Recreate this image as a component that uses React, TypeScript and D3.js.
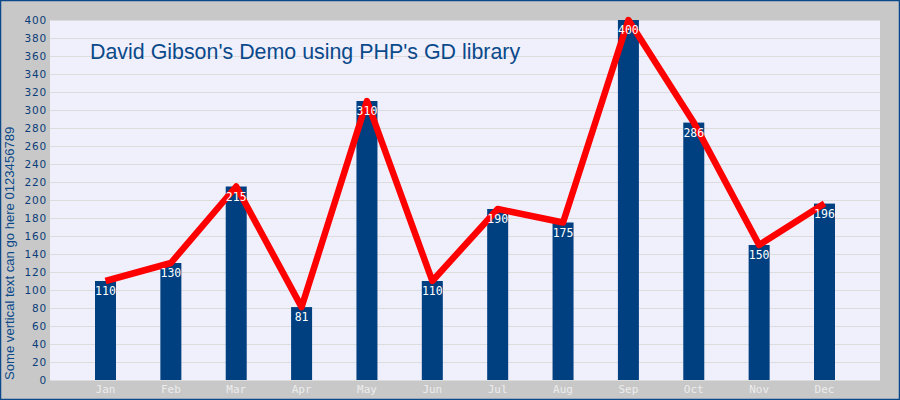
import React from "react";
import * as d3 from "d3";

const months = ["Jan", "Feb", "Mar", "Apr", "May", "Jun", "Jul", "Aug", "Sep", "Oct", "Nov", "Dec"];
const values = [110, 130, 215, 81, 310, 110, 190, 175, 400, 286, 150, 196];
const yTicks = d3.range(0, 401, 20);
const title = "David Gibson's Demo using PHP's GD library";
const yTitle = "Some vertical text can go here 0123456789";

const W = 900;
const H = 400;
const plot = { left: 50, right: 880, top: 20, bottom: 380 };

export default function App() {
  const x = d3.scalePoint<string>().domain(months).range([105.5, 824.5]);
  const y = d3.scaleLinear().domain([0, 400]).range([plot.bottom, plot.top]);
  const barW = 21;
  const line = d3
    .line<number>()
    .x((_, i) => x(months[i])!)
    .y((d) => y(d));

  return (
    <svg
      width={W}
      height={H}
      style={{ position: "absolute", left: 0, top: 0 }}
    >
      <rect x={0} y={0} width={W} height={H} fill="#c8c8c8" />
      <rect x={0.5} y={0.5} width={W - 1} height={H - 1} fill="none" stroke="#0a4a8a" strokeWidth={1.5} />
      <rect
        x={plot.left}
        y={plot.top}
        width={plot.right - plot.left}
        height={plot.bottom - plot.top}
        fill="#f0f0fd"
      />
      {yTicks.map((t) => (
        <g key={t}>
          <line
            x1={plot.left}
            x2={plot.right}
            y1={y(t) + 0.5}
            y2={y(t) + 0.5}
            stroke="#dcdcdc"
            strokeWidth={1}
          />
          <text
            x={47}
            y={y(t) + 4}
            textAnchor="end"
            fontFamily="DejaVu Sans"
            fontSize={10.5}
            letterSpacing={0.8}
            fill="#0a3d78"
          >
            {t}
          </text>
        </g>
      ))}
      {months.map((m, i) => (
        <g key={m}>
          <rect
            x={x(m)! - barW / 2}
            y={y(values[i])}
            width={barW}
            height={plot.bottom - y(values[i])}
            fill="#003f80"
          />
          <text
            x={x(m)!}
            y={393}
            textAnchor="middle"
            fontFamily="DejaVu Sans Mono"
            fontSize={11}
            fill="#ececec"
          >
            {m}
          </text>
        </g>
      ))}
      <path
        d={line(values) ?? ""}
        fill="none"
        stroke="#ff0000"
        strokeWidth={6.5}
        strokeLinejoin="round"
      />
      {months.map((m, i) => (
        <text
          key={m}
          x={x(m)!}
          y={y(values[i]) + 14}
          textAnchor="middle"
          fontFamily="DejaVu Sans Mono"
          fontSize={11.5}
          fill="#ffffff"
        >
          {values[i]}
        </text>
      ))}
      <text
        x={90}
        y={59}
        fontFamily="Liberation Sans"
        fontSize={21.4}
        fill="#0a4a8a"
      >
        {title}
      </text>
      <text
        transform={`translate(14, 380) rotate(-90)`}
        fontFamily="Liberation Sans"
        fontSize={13.1}
        fill="#0a4a8a"
      >
        {yTitle}
      </text>
    </svg>
  );
}
